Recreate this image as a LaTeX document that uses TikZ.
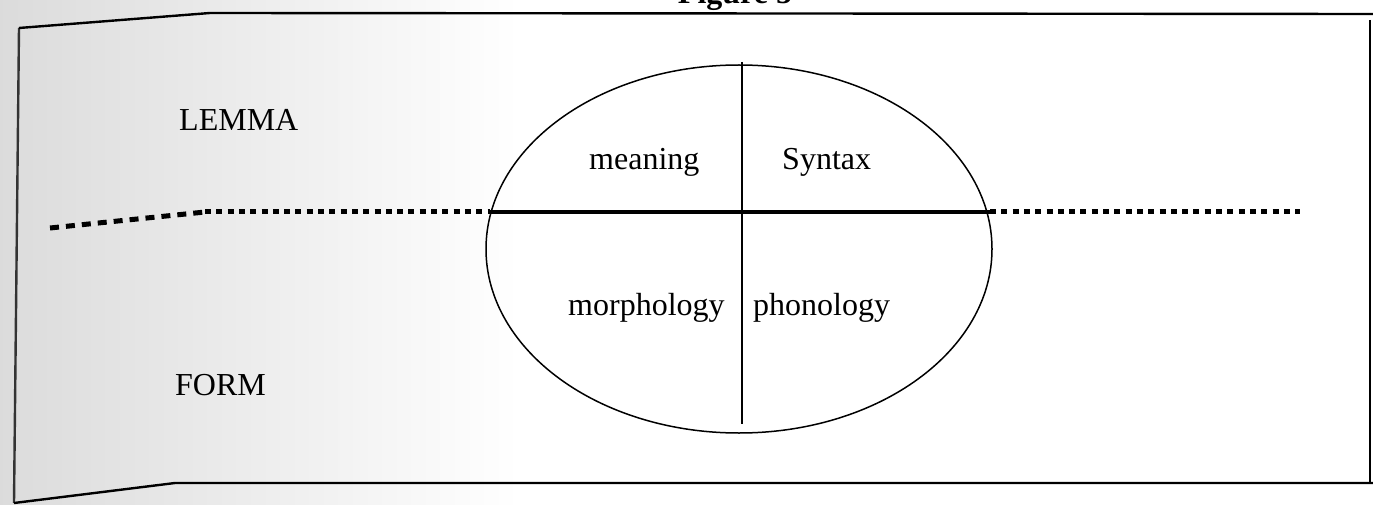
\documentclass[tikz,border=0pt]{standalone}
\usepackage{fontspec}
\setmainfont{Liberation Serif}
\usetikzlibrary{shapes.geometric}
\begin{document}
\begin{tikzpicture}[x=1pt,y=-1pt,
  lbl/.style={anchor=base west,inner sep=0pt,font=\fontsize{32}{38}\selectfont},
  frame/.style={line width=2.4pt,line join=round},
  dotline/.style={line width=5pt,dash pattern=on 6pt off 5.3pt},
  dashline/.style={line width=5pt,dash pattern=on 9pt off 7pt}]
\useasboundingbox (0,0) rectangle (1373,505);
% scanned grey tint on the left
\shade[left color=black!14,right color=white] (0,0) rectangle (520,505);
\fill[white] (520,0) rectangle (1373,505);
% title (cut off at the top)
\node[anchor=base,inner sep=0pt,font=\bfseries\fontsize{32}{38}\selectfont] (title) at (735,4) {Figure 5};
% frame
\coordinate (tl) at (19,28);
\coordinate (tk) at (210,13);
\coordinate (tr) at (1373,14);
\coordinate (rt) at (1370,20);
\coordinate (rb) at (1370,483);
\coordinate (br) at (1373,483);
\coordinate (bk) at (175,483);
\coordinate (bl) at (14,503);
\draw[frame,black!80] (tl) -- (bl);
\draw[frame] (tr) -- (tk) -- (tl);
\draw[frame] (bl) -- (bk) -- (br);
\draw[line width=1.4pt] (rt) -- (rb);
% ellipse
\node[draw,ellipse,line width=1.5pt,minimum width=506pt,minimum height=368pt,inner sep=0pt] (ell) at (739,249) {};
% vertical divider
\coordinate (vtop) at (742,62);
\coordinate (vbot) at (742,424);
\draw[line width=1.6pt] (vtop) -- (vbot);
% horizontal divider
\coordinate (d0) at (50,228);
\coordinate (d1) at (205,212);
\coordinate (eL) at (490,212);
\coordinate (eR) at (990,212);
\coordinate (d2) at (1300,212);
\draw[dashline] (d0) -- (d1);
\draw[dotline] (d1) -- (eL);
\draw[line width=4pt] (eL) -- (eR);
\draw[dotline] (eR) -- (d2);
% labels
\node[lbl] (lemma) at (179,131) {LEMMA};
\node[lbl] (form) at (175,395) {FORM};
\node[lbl] (meaning) at (589,170) {meaning};
\node[lbl] (syntax) at (782,170) {Syntax};
\node[lbl] (morph) at (568,315) {morphology};
\node[lbl] (phon) at (753,315) {phonology};
\end{tikzpicture}
\end{document}
